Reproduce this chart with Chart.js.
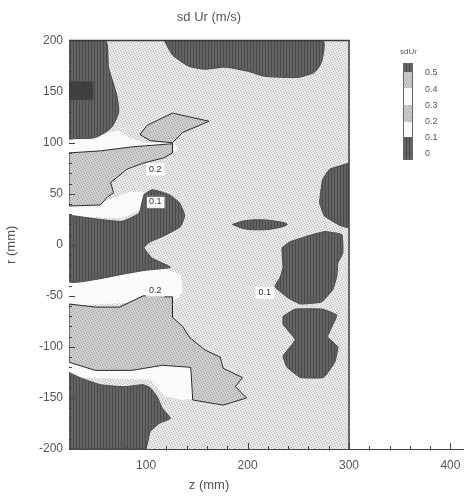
<!DOCTYPE html>
<html>
<head>
<meta charset="utf-8">
<script src="https://cdn.jsdelivr.net/npm/chart.js@4.4.1/dist/chart.umd.min.js"></script>
<style>
  html, body { margin: 0; padding: 0; background: #fff; }
</style>
</head>
<body>
<canvas id="c" width="464" height="498"></canvas>
<script>
// axis tick labels
const xTicks = [100, 200, 300, 400];
const yTicks = [-200, -150, -100, -50, 0, 50, 100, 150, 200];
const legendLevels = ["0.5", "0.4", "0.3", "0.2", "0.1", "0"];

// contour regions, points are [z (mm), r (mm)]
const plotFrame = [[24, -200], [24, 200], [300, 200], [300, -200]];

// bands just above 0.1 (white)
const whiteTop = [[24, 106], [55, 107], [72, 112], [85, 104], [100, 100], [128, 100], [132, 92], [24, 86]];
const whiteUpper = [[24, 44], [55, 41], [66, 45], [84, 52], [97, 52], [100, 44], [93, 33], [76, 26], [24, 28]];
const whiteLower = [[24, -32], [74, -26], [114, -22], [134, -29], [136, -46], [130, -54], [24, -60]];
const whiteBottom = [[24, -109], [64, -119], [104, -113], [146, -116], [150, -125], [150, -150], [135, -152], [118, -148], [104, -132], [24, -130]];

// 0.2 contours (grey)
const greySmall = [[94, 108], [101, 117], [126, 129], [162, 121], [136, 110], [126, 100], [104, 102]];
const greyUpper = [[24, 90], [55, 92], [87, 96], [126, 99], [126, 90], [117, 85], [97, 80], [81, 74], [65, 61], [68, 51], [62, 47], [55, 39], [24, 38]];
const greyLower = [[24, -58], [50, -61], [74, -61], [97, -50], [121, -51], [126, -51], [126, -71], [136, -80], [143, -91], [158, -103], [173, -110], [176, -121], [195, -130], [188, -139], [199, -150], [176, -157], [146, -152], [144, -120], [116, -118], [86, -123], [50, -123], [24, -115]];

// below 0.1 (dark)
const darkTopLeft = [[24, 200], [60, 200], [63, 174], [71, 147], [73, 130], [66, 115], [50, 105], [30, 104], [24, 104]];
const darkCore = [[24, 160], [48, 160], [48, 142], [24, 142]];
const darkTop = [[118, 200], [126, 186], [142, 175], [158, 172], [178, 174], [200, 170], [217, 165], [250, 164], [266, 169], [273, 179], [274, 200]];
const darkMidLeft = [[24, 29], [54, 25], [76, 23], [93, 31], [98, 49], [106, 54], [123, 49], [133, 41], [138, 29], [134, 18], [116, 8], [104, 3], [98, -3], [106, -13], [124, -22], [99, -25], [76, -29], [50, -34], [24, -36]];
const darkSliver = [[185, 20], [197, 23.5], [211, 24.5], [225, 23.5], [239, 20], [225, 15.7], [211, 14.7], [197, 15.7]];
const darkRightEdge = [[300, 80], [281, 74], [274, 64], [271, 41], [276, 28], [291, 19], [300, 17]];
const darkRightA = [[257, 8], [276, 13], [293, 10], [294, -8], [289, -18], [288, -31], [284, -44], [273, -56], [252, -58], [240, -52], [227, -41], [232, -32], [235, -22], [234, -3], [242, 3]];
const darkRightB = [[235, -70], [247, -63], [274, -63], [288, -69], [279, -90], [289, -100], [286, -115], [275, -130], [252, -130], [239, -120], [235, -109], [247, -93], [235, -78]];
const darkBottomLeft = [[24, -125], [37, -131], [55, -137], [79, -139], [97, -137], [104, -140], [111, -149], [116, -160], [124, -170], [113, -175], [104, -183], [99, -200], [24, -200]];

// contour labels
const labelText = ["0.2", "0.1", "0.2", "0.1"];
const labelZ = [109, 109, 109, 217];
const labelR = [74, 42, -45, -47];

function makePattern(base, dot, dots, w, h) {
  const c = document.createElement("canvas");
  c.width = w; c.height = h;
  const g = c.getContext("2d");
  g.fillStyle = base;
  g.fillRect(0, 0, w, h);
  g.fillStyle = dot;
  dots.forEach(([a, b, ww, hh]) => g.fillRect(a, b, ww || 1, hh || 1));
  return g.createPattern(c, "repeat");
}

const speckle = [[0, 0], [3, 1], [1, 2], [4, 3], [2, 4]];
const lightFill = makePattern("#e8e8e8", "#bdbdbd", speckle, 5, 5);
const greyFill = makePattern("#cdcdcd", "#a3a3a3", speckle, 5, 5);
const darkFill = makePattern("#626262", "#4c4c4c", [[1, 0, 1, 4]], 3, 4);

const toPts = arr => arr.concat([arr[0]]).map(([x, y]) => ({ x, y }));

function region(pts, fill, line, order, tension) {
  return {
    data: toPts(pts),
    backgroundColor: fill,
    borderColor: line || "rgba(0,0,0,0)",
    borderWidth: line ? 1 : 0,
    fill: "shape",
    pointRadius: 0,
    tension: tension || 0,
    order: order
  };
}

const datasets = [
  region(plotFrame, lightFill, null, 20),
  region(whiteTop, "#fbfbfb", null, 15),
  region(whiteUpper, "#fbfbfb", null, 15),
  region(whiteLower, "#fbfbfb", null, 15),
  region(whiteBottom, "#fbfbfb", null, 15),
  region(greySmall, greyFill, "#2b2b2b", 10),
  region(greyUpper, greyFill, "#2b2b2b", 10),
  region(greyLower, greyFill, "#2b2b2b", 10),
  region(darkTopLeft, darkFill, "#4a4a4a", 5, 0.2),
  region(darkCore, "#3f3f3f", null, 4),
  region(darkTop, darkFill, "#4a4a4a", 5, 0.2),
  region(darkMidLeft, darkFill, "#4a4a4a", 5, 0.15),
  region(darkSliver, darkFill, "#4a4a4a", 5, 0.4),
  region(darkRightEdge, darkFill, "#4a4a4a", 5, 0.1),
  region(darkRightA, darkFill, "#4a4a4a", 5, 0.1),
  region(darkRightB, darkFill, "#4a4a4a", 5, 0.1),
  region(darkBottomLeft, darkFill, "#4a4a4a", 5, 0.15),
  {
    // top and right edges of the frame
    data: [{ x: 24, y: 200 }, { x: 300, y: 200 }, { x: 300, y: -200 }],
    borderColor: "#3a3a3a",
    borderWidth: 1.5,
    fill: false,
    pointRadius: 0,
    clip: false,
    order: 1
  }
];

// inward ticks, contour labels, legend, axis continuation
const extras = {
  id: "extras",
  afterDraw(chart) {
    const { ctx, chartArea: a, scales: { x, y } } = chart;
    ctx.save();
    ctx.strokeStyle = "#444";
    ctx.lineWidth = 1;
    ctx.beginPath();
    ctx.moveTo(a.right, a.bottom + 0.5);
    ctx.lineTo(chart.width, a.bottom + 0.5);
    ctx.stroke();

    ctx.beginPath();
    for (let v = 40; v <= 400; v += 20) {
      const px = Math.round(x.getPixelForValue(v)) + 0.5;
      const len = v % 100 === 0 ? 6 : 3;
      ctx.moveTo(px, a.bottom);
      ctx.lineTo(px, a.bottom - len);
    }
    for (let v = -190; v <= 190; v += 10) {
      const py = Math.round(y.getPixelForValue(v)) + 0.5;
      const len = v % 50 === 0 ? 6 : 3;
      ctx.moveTo(a.left, py);
      ctx.lineTo(a.left + len, py);
    }
    ctx.stroke();

    // contour labels
    ctx.font = "9px 'Liberation Sans', Arial, sans-serif";
    ctx.textAlign = "center";
    ctx.textBaseline = "middle";
    labelText.forEach((t, i) => {
      const px = x.getPixelForValue(labelZ[i]);
      const py = y.getPixelForValue(labelR[i]);
      const w = ctx.measureText(t).width + 6;
      ctx.fillStyle = "#fdfdfd";
      ctx.fillRect(px - w / 2, py - 6, w, 12);
      if (i === 1) {
        ctx.strokeStyle = "#777";
        ctx.strokeRect(Math.round(px - w / 2) + 0.5, Math.round(py - 6) + 0.5, Math.round(w), 12);
      }
      ctx.fillStyle = "#333";
      ctx.fillText(t, px, py);
    });

    // legend
    const lx = 403, lw = 10;
    const edges = [63, 72, 88, 105, 122, 137, 160];
    const fills = [darkFill, greyFill, "#fbfbfb", greyFill, "#fbfbfb", darkFill];
    fills.forEach((f, i) => {
      ctx.fillStyle = f;
      ctx.fillRect(lx, edges[i], lw, edges[i + 1] - edges[i]);
    });
    ctx.strokeStyle = "#666";
    ctx.strokeRect(lx + 0.5, edges[0] + 0.5, lw - 1, edges[6] - edges[0] - 1);
    ctx.fillStyle = "#555";
    ctx.textAlign = "left";
    ctx.font = "8px 'Liberation Sans', Arial, sans-serif";
    ctx.fillText("sdUr", 400, 52);
    ctx.font = "9px 'Liberation Sans', Arial, sans-serif";
    legendLevels.forEach((t, i) => {
      ctx.fillText(t, 425, 73 + i * 16.2);
    });
    ctx.restore();
  }
};

Chart.defaults.font.family = "'Liberation Sans', Arial, sans-serif";
Chart.defaults.color = "#555";

new Chart(document.getElementById("c"), {
  type: "line",
  data: { datasets },
  options: {
    responsive: false,
    animation: false,
    events: [],
    layout: { padding: { left: 0, right: 115, top: 0, bottom: 0 } },
    plugins: {
      legend: { display: false },
      tooltip: { enabled: false },
      title: {
        display: true,
        text: "sd Ur (m/s)",
        fullSize: false,
        color: "#555",
        font: { size: 13, weight: "normal" },
        padding: { top: 10, bottom: 15 }
      }
    },
    scales: {
      x: {
        type: "linear",
        min: 24,
        max: 300,
        z: 1,
        grid: { display: false, drawTicks: false },
        border: { display: true, color: "#444", width: 1 },
        afterBuildTicks: s => { s.ticks = xTicks.map(v => ({ value: v })); },
        afterFit: s => { s.height = 49; },
        ticks: { autoSkip: false, maxRotation: 0, padding: 9, font: { size: 12 }, color: "#555" },
        title: { display: true, text: "z (mm)", font: { size: 13 }, color: "#555", padding: { top: 0, bottom: 5 } }
      },
      y: {
        type: "linear",
        min: -200,
        max: 200,
        z: 1,
        grid: { display: false, drawTicks: false },
        border: { display: true, color: "#444", width: 1 },
        afterBuildTicks: s => { s.ticks = yTicks.map(v => ({ value: v })); },
        afterFit: s => { s.width = 69; },
        ticks: { autoSkip: false, padding: 6, font: { size: 12 }, color: "#555" },
        title: { display: true, text: "r (mm)", font: { size: 13 }, color: "#555", padding: { top: 4, bottom: 0 } }
      }
    }
  },
  plugins: [extras]
});
</script>
</body>
</html>
